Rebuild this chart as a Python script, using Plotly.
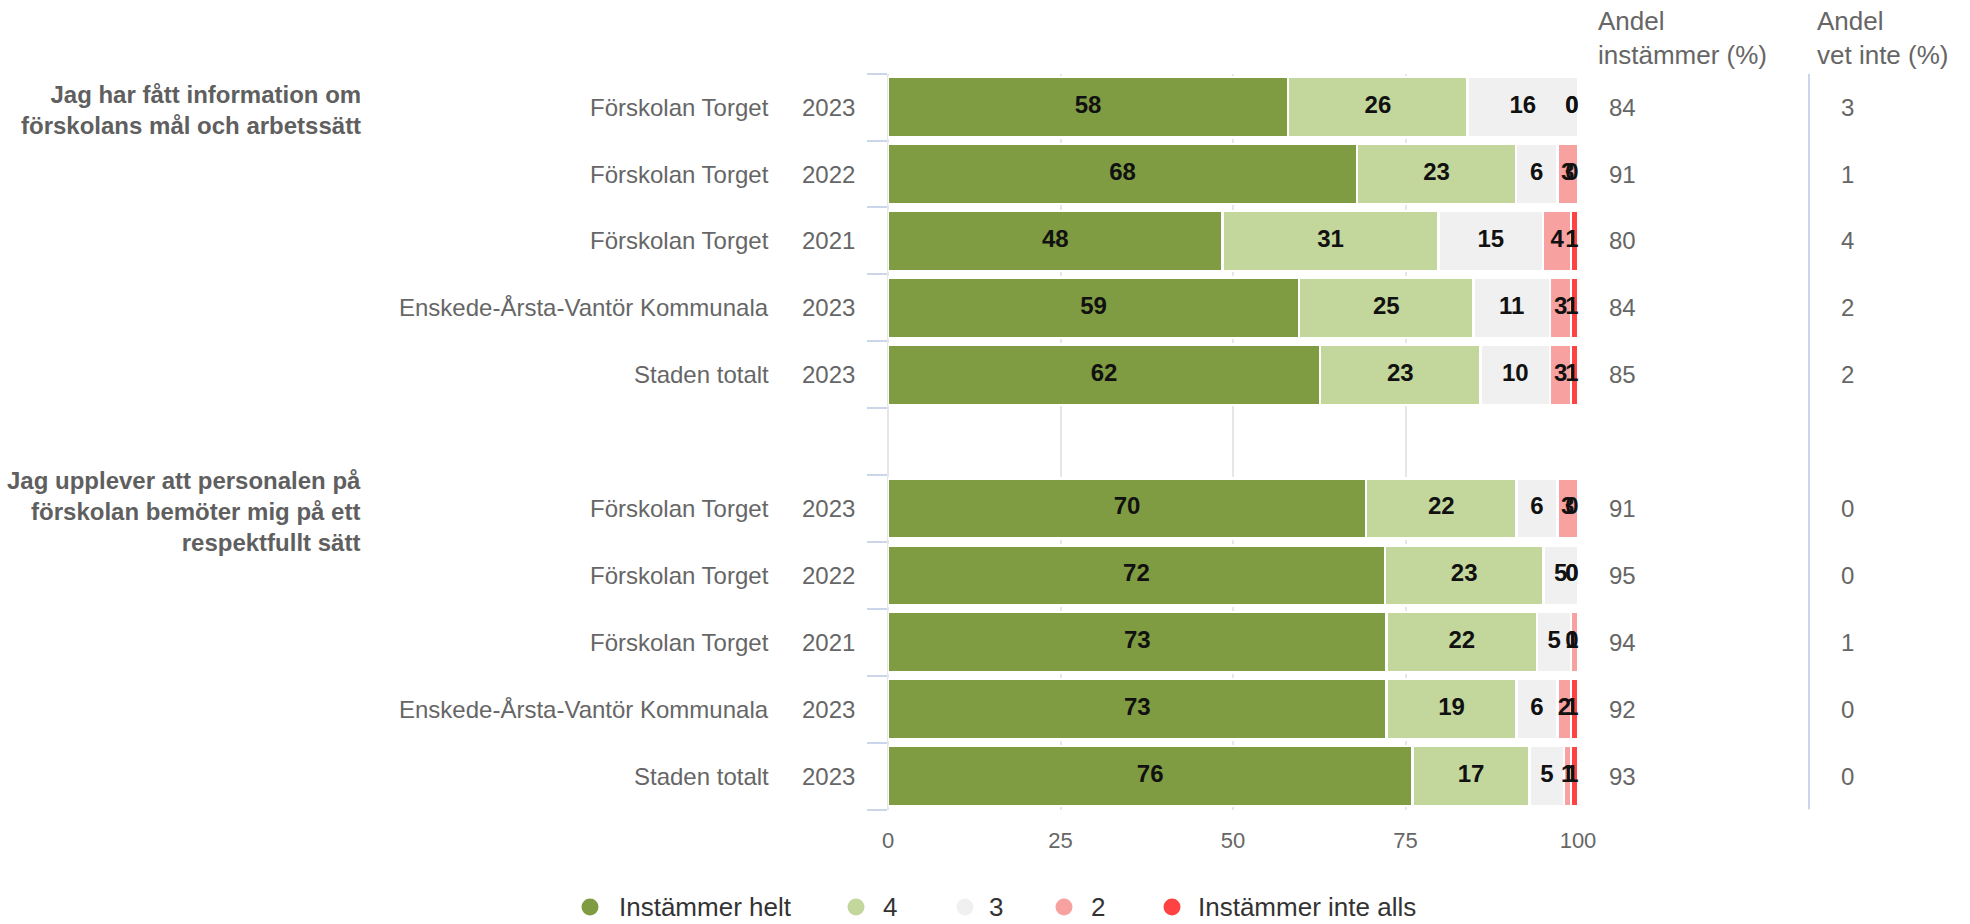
import plotly.graph_objects as go
import numpy as np

W, H = 1970, 924

# ---------------- data ----------------
question_labels = [
    "Jag har fått information om<br>förskolans mål och arbetssätt",
    "Jag upplever att personalen på<br>förskolan bemöter mig på ett<br>respektfullt sätt",
]
unit_labels = ["Förskolan Torget", "Förskolan Torget", "Förskolan Torget",
               "Enskede-Årsta-Vantör Kommunala", "Staden totalt"]
year_labels = ["2023", "2022", "2021", "2023", "2023"]

series_names = ["Instämmer helt", "4", "3", "2", "Instämmer inte alls"]
series_colors = ["#7f9c42", "#c3d69b", "#f0f0f0", "#f8a1a1", "#ff4343"]

instammer_helt = [58, 68, 48, 59, 62, 70, 72, 73, 73, 76]
svar_4 = [26, 23, 31, 25, 23, 22, 23, 22, 19, 17]
svar_3 = [16, 6, 15, 11, 10, 6, 5, 5, 6, 5]
svar_2 = [0, 3, 4, 3, 3, 3, 0, 1, 2, 1]
instammer_inte_alls = [0, 0, 1, 1, 1, 0, 0, 0, 1, 1]

andel_instammer = [84, 91, 80, 84, 85, 91, 95, 94, 92, 93]
andel_vet_inte = [3, 1, 4, 2, 2, 0, 0, 1, 0, 0]

header_instammer = "Andel<br>instämmer (%)"
header_vet_inte = "Andel<br>vet inte (%)"
x_ticks = [0, 25, 50, 75, 100]

# ---------------- layout helpers ----------------
FONT = "Liberation Sans, Arial, sans-serif"


def px2x(p):
    return p / W


def py2y(p):
    return 1 - p / H


series = [instammer_helt, svar_4, svar_3, svar_2, instammer_inte_alls]
n_per_group = len(unit_labels)
slot = n_per_group + 1  # one empty slot between the question groups
positions = [g * slot + i for g in range(len(question_labels)) for i in range(n_per_group)]
last_pos = positions[-1]

px_x0, px_x1 = 888, 1578
px_ytop, px_ybot = 73.7, 809.5
LABEL_SIZE = 24

fig = go.Figure()

for name, vals, col in zip(series_names, series, series_colors):
    fig.add_trace(go.Bar(
        y=positions, x=vals, orientation="h", name=name,
        marker=dict(color=col, line=dict(color="white", width=2.5)),
        showlegend=False, hoverinfo="skip",
    ))

# data labels at the middle of each normalised segment, kept inside the plot area
arr = np.array(series, dtype=float)
totals = arr.sum(axis=0)
cum = np.cumsum(arr, axis=0) - arr
units_per_px = 100.0 / (px_x1 - px_x0)
lab_x, lab_y, lab_t = [], [], []
for s in range(arr.shape[0]):
    for r in range(arr.shape[1]):
        t = str(int(arr[s, r]))
        mid = (cum[s, r] + arr[s, r] / 2) / totals[r] * 100
        half = (len(t) * 0.556 * LABEL_SIZE / 2 - 0.7) * units_per_px
        lab_x.append(min(mid, 100 - half))
        lab_y.append(positions[r])
        lab_t.append(t)
fig.add_trace(go.Scatter(
    x=lab_x, y=lab_y, text=lab_t, mode="text", cliponaxis=False,
    textfont=dict(family=FONT, size=LABEL_SIZE, color="#111111", weight="bold"),
    textposition="middle center", showlegend=False, hoverinfo="skip",
))

annotations = []
shapes = []
for g, q in enumerate(question_labels):
    annotations.append(dict(
        x=px2x(363), xref="paper", y=g * slot, yref="y", xanchor="right", yanchor="middle",
        yshift=-3, text=q, align="right", showarrow=False,
        font=dict(family=FONT, size=24, color="#5f5f5f", weight="bold"),
    ))
for k, p in enumerate(positions):
    i = k % n_per_group
    annotations.append(dict(x=px2x(770.5), xref="paper", y=p, yref="y", xanchor="right",
                            yanchor="middle", text=unit_labels[i], showarrow=False,
                            font=dict(family=FONT, size=24, color="#666666")))
    annotations.append(dict(x=px2x(856.5), xref="paper", y=p, yref="y", xanchor="right",
                            yanchor="middle", text=year_labels[i], showarrow=False,
                            font=dict(family=FONT, size=24, color="#666666")))
    annotations.append(dict(x=px2x(1607), xref="paper", y=p, yref="y", xanchor="left",
                            yanchor="middle", text=str(andel_instammer[k]), showarrow=False,
                            font=dict(family=FONT, size=24, color="#666666")))
    annotations.append(dict(x=px2x(1839), xref="paper", y=p, yref="y", xanchor="left",
                            yanchor="middle", text=str(andel_vet_inte[k]), showarrow=False,
                            font=dict(family=FONT, size=24, color="#666666")))
for xpx, txt in [(1596, header_instammer), (1815, header_vet_inte)]:
    annotations.append(dict(x=px2x(xpx), xref="paper", y=py2y(3.5), yref="paper",
                            xanchor="left", yanchor="top", text=txt, align="left",
                            showarrow=False, font=dict(family=FONT, size=26, color="#666666")))

# legend: circle symbols followed by the series names
legend_cx = [590, 856, 965, 1064, 1172]
legend_tx = [617, 881, 987, 1089, 1196]
legend_cy = 907
for cx, tx, name, col in zip(legend_cx, legend_tx, series_names, series_colors):
    shapes.append(dict(type="circle", xref="paper", yref="paper",
                       xsizemode="pixel", ysizemode="pixel",
                       xanchor=px2x(cx), yanchor=py2y(legend_cy),
                       x0=-8.5, x1=8.5, y0=-8.5, y1=8.5,
                       fillcolor=col, line=dict(width=0)))
    annotations.append(dict(x=px2x(tx), xref="paper", y=py2y(legend_cy), yref="paper",
                            xanchor="left", yanchor="middle", text=name, showarrow=False,
                            font=dict(family=FONT, size=26, color="#333333")))

shapes.append(dict(type="line", xref="paper", yref="y", x0=px2x(1809), x1=px2x(1809),
                   y0=-0.5, y1=last_pos + 0.5, line=dict(color="#ccd6eb", width=2)))

fig.update_layout(
    width=W, height=H,
    margin=dict(l=0, r=0, t=0, b=0, autoexpand=False),
    paper_bgcolor="white", plot_bgcolor="white",
    barmode="stack", barnorm="percent", bargap=0.1,
    showlegend=False,
    font=dict(family=FONT, color="#666666"),
    xaxis=dict(domain=[px2x(px_x0), px2x(px_x1)], range=[0, 100], tickvals=x_ticks,
               showgrid=True, gridcolor="#e6e6e6", gridwidth=2,
               zeroline=True, zerolinecolor="#e6e6e6", zerolinewidth=2,
               showline=False, ticks="", ticklabelstandoff=15,
               tickfont=dict(family=FONT, size=22, color="#666666"), fixedrange=True),
    yaxis=dict(domain=[py2y(px_ybot), py2y(px_ytop)], range=[last_pos + 0.5, -0.5],
               tickvals=list(np.arange(-0.5, last_pos + 1, 1.0)), ticks="outside", ticklen=20,
               tickwidth=2, tickcolor="#ccd6eb", showticklabels=False, showgrid=False,
               zeroline=False, showline=False, fixedrange=True),
    annotations=annotations, shapes=shapes,
)

# remove the browser's default 8px page margin so the figure fills the window exactly
fig.write_html("out.html", config={"displayModeBar": False},
               post_script="document.body.style.margin='0';")
